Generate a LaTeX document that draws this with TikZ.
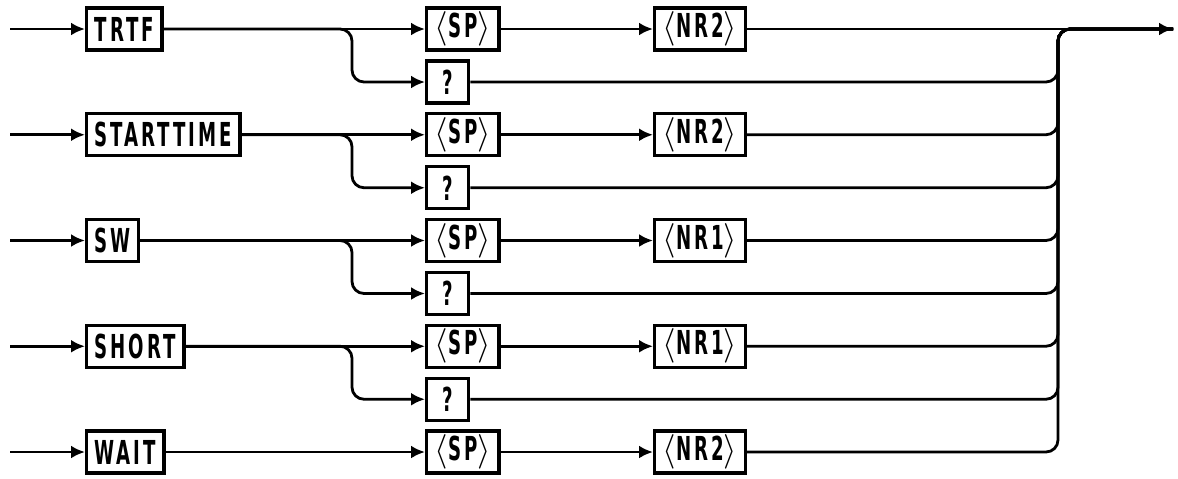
\documentclass[tikz,border=0pt]{standalone}
\usepackage{fontspec}
\setmainfont{DejaVu Sans}[FakeStretch=0.55, LetterSpace=9]
\usetikzlibrary{positioning}
\usetikzlibrary{arrows.meta}

\tikzset{
	kw/.style={draw, line width=1.7pt, anchor=west, minimum height=21pt,
		inner xsep=4pt, inner ysep=0pt, font=\bfseries\fontsize{16.5}{16.5}\selectfont},
	flow/.style={line width=1.4pt, -{Latex[length=7pt,width=6.5pt]}},
	bus/.style={line width=1.4pt, rounded corners=6pt},
}

\begin{document}
\begin{tikzpicture}[x=0.5pt, y=-0.5pt]
	\useasboundingbox (0,0) rectangle (1178,478);
	\node[shape=coordinate] (top) at (1058,29) {};
	\node[shape=coordinate] (out) at (1173,29) {};
	% one row per keyword, with its optional query branch
	\foreach \i/\word/\nr in {1/TRTF/2, 2/STARTTIME/2, 3/SW/1, 4/SHORT/1, 5/WAIT/2}{
		\pgfmathsetmacro{\y}{29+(\i-1)*105.75}
		\node[shape=coordinate] (in\i) at (10,\y) {};
		\node[kw] (k\i) at (85,\y) {\word};
		\node[kw] (sp\i) at (425,\y) {$\langle$SP$\rangle$};
		\node[kw] (nr\i) at (653,\y) {$\langle$NR\nr$\rangle$};
		\draw[flow] (in\i) -- (k\i.west);
		\draw[flow] (k\i.east) -- (sp\i.west);
		\draw[flow] (sp\i.east) -- (nr\i.west);
		\ifnum\i<5
			\node[kw, minimum width=21pt] (q\i) at (425,\y+53) {?};
			\draw[flow, rounded corners=6pt] (k\i.east) -| ([xshift=-36.5pt]q\i.west) -- (q\i.west);
			\draw[bus] (q\i.east) -| (top) -- (out);
		\fi
		\ifnum\i>1
			\draw[bus] (nr\i.east) -| (top) -- (out);
		\fi
	}
	\draw[flow] (nr1.east) -- (out);
\end{tikzpicture}
\end{document}
